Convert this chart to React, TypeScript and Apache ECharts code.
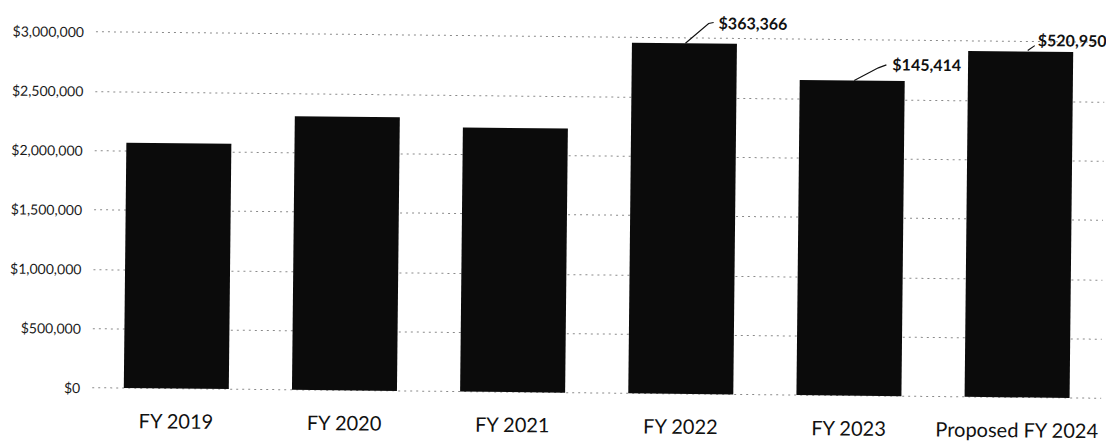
import React, { useEffect, useRef } from "react";
import * as echarts from "echarts";

// ---- data ----
const categories = ["FY 2019", "FY 2020", "FY 2021", "FY 2022", "FY 2023", "Proposed FY 2024"];
const totals = [2067000, 2305000, 2225000, 2955000, 2655000, 2915000];
const changeLabels = ["", "", "", "$363,366", "$145,414", "$520,950"];
const yTickValues = [0, 500000, 1000000, 1500000, 2000000, 2500000, 3000000];

// label placement relative to the top-centre of each bar (style only)
const labelOffsets: Record<number, { line: number[][]; tx: number; ty: number }> = {
  3: { line: [[1, 0], [24, -20], [29, -21]], tx: 34, ty: -21 },
  4: { line: [[2, 0], [26, -13], [34, -16]], tx: 40, ty: -17 },
  5: { line: [[7, -1], [14, -6]], tx: 17, ty: -12 },
};

const FONT = "Lato, 'Open Sans', 'DejaVu Sans', sans-serif";

export default function App() {
  const ref = useRef<HTMLDivElement>(null);

  useEffect(() => {
    if (!ref.current) return;
    const chart = echarts.init(ref.current, null, { renderer: "svg" });
    const step = yTickValues[1] - yTickValues[0];
    const annotationData = changeLabels
      .map((t, i) => [i, totals[i], t])
      .filter((d) => d[2] !== "");

    chart.setOption({
      animation: false,
      backgroundColor: "#ffffff",
      grid: { left: 94, right: 3, top: 36.5, bottom: 48.5, containLabel: false },
      xAxis: {
        type: "category",
        data: categories,
        axisLine: { show: false },
        axisTick: { show: false },
        axisLabel: {
          margin: 22,
          fontFamily: FONT,
          fontSize: 20,
          color: "#111",
          interval: 0,
        },
      },
      yAxis: {
        type: "value",
        min: yTickValues[0],
        max: yTickValues[yTickValues.length - 1],
        interval: step,
        axisLine: { show: false },
        axisTick: { show: false },
        axisLabel: {
          margin: 12,
          fontFamily: FONT,
          fontSize: 14,
          color: "#1a1a1a",
          formatter: (v: number) => "$" + v.toLocaleString("en-US"),
        },
        splitLine: {
          show: true,
          lineStyle: { color: "#8a8a8a", width: 1, type: [2, 4] },
        },
      },
      series: [
        {
          type: "bar",
          data: totals,
          barWidth: 105,
          itemStyle: { color: "#0b0b0b" },
          z: 2,
        },
        {
          type: "custom",
          data: annotationData,
          z: 5,
          encode: { x: 0, y: 1 },
          renderItem: (params: any, api: any) => {
            const idx = api.value(0);
            const p = api.coord([idx, api.value(1)]);
            const o = labelOffsets[idx] || { line: [[0, 0], [10, -10]], tx: 14, ty: -12 };
            const text = annotationData[params.dataIndex][2] as string;
            return {
              type: "group",
              children: [
                {
                  type: "polyline",
                  shape: { points: o.line.map((q) => [p[0] + q[0], p[1] + q[1]]) },
                  style: { stroke: "#111", lineWidth: 1.2, fill: null },
                },
                {
                  type: "text",
                  x: p[0] + o.tx,
                  y: p[1] + o.ty,
                  style: {
                    text,
                    fill: "#111",
                    fontFamily: FONT,
                    fontSize: 16,
                    fontWeight: "bold",
                    align: "left",
                    verticalAlign: "middle",
                  },
                },
              ],
            };
          },
        },
      ],
    });

    return () => chart.dispose();
  }, []);

  return (
    <div
      ref={ref}
      style={{
        position: "absolute",
        left: 0,
        top: 0,
        width: 1106,
        height: 441,
        transform: "rotate(0.6deg)",
        transformOrigin: "553px 220px",
      }}
    />
  );
}
